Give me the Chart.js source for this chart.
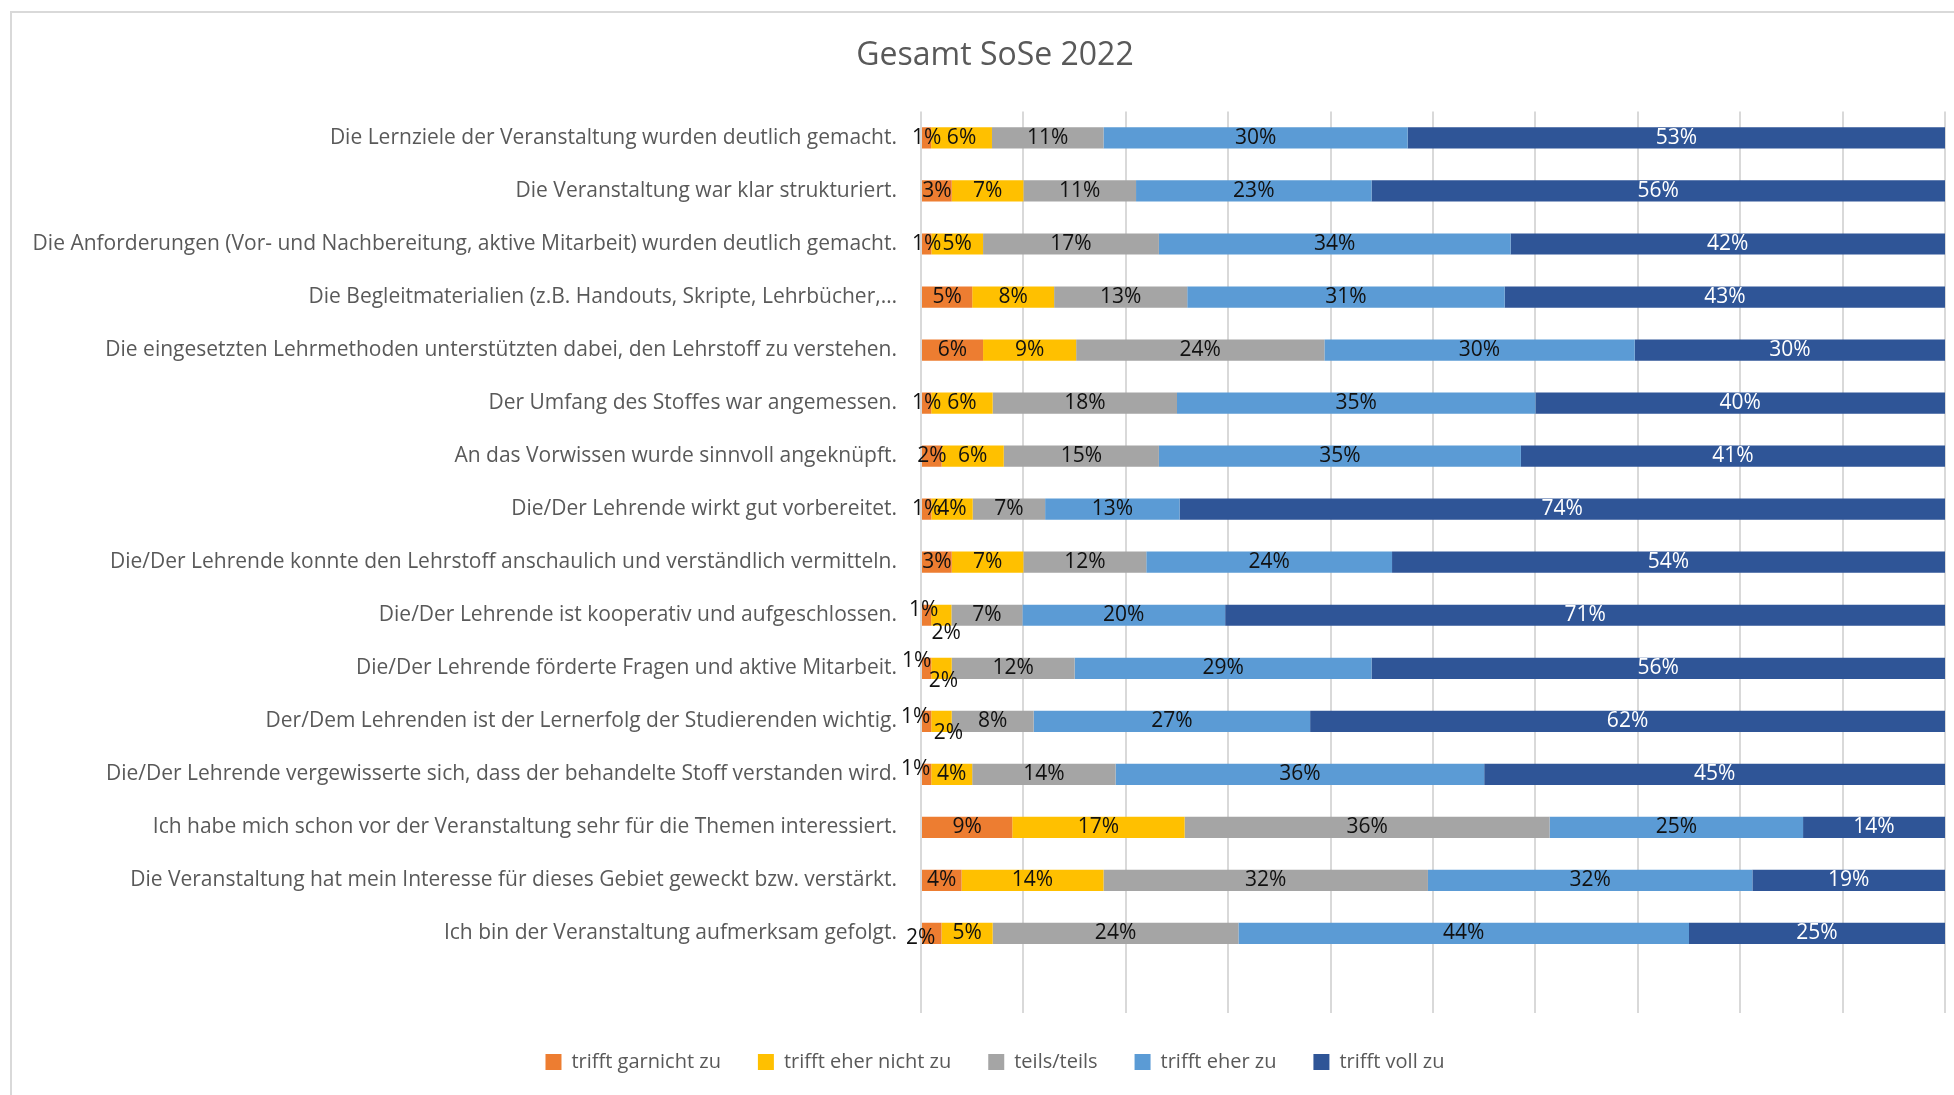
<!DOCTYPE html>
<html lang="de">
<head>
<meta charset="utf-8">
<title>Gesamt SoSe 2022</title>
<script src="https://cdn.jsdelivr.net/npm/chart.js@4/dist/chart.umd.min.js"></script>
<style>
  html, body { margin: 0; padding: 0; background: #fff; overflow: hidden; }
  #frame {
    position: absolute; left: 10px; top: 11px; width: 2100px; height: 1200px;
    border-left: 2px solid #d9d9d9; border-top: 2px solid #d9d9d9;
  }
  #wrap { position: absolute; left: 0; top: 0; width: 1954px; height: 1095px; }
</style>
</head>
<body>
<div id="frame"></div>
<div id="wrap"><canvas id="chart"></canvas></div>
<script>
// Fragen (Reihenfolge wie im Diagramm, von oben nach unten)
const fragen = [
  'Die Lernziele der Veranstaltung wurden deutlich gemacht.',
  'Die Veranstaltung war klar strukturiert.',
  'Die Anforderungen (Vor- und Nachbereitung, aktive Mitarbeit) wurden deutlich gemacht.',
  'Die Begleitmaterialien (z.B. Handouts, Skripte, Lehrbücher,…',
  'Die eingesetzten Lehrmethoden unterstützten dabei, den Lehrstoff zu verstehen.',
  'Der Umfang des Stoffes war angemessen.',
  'An das Vorwissen wurde sinnvoll angeknüpft.',
  'Die/Der Lehrende wirkt gut vorbereitet.',
  'Die/Der Lehrende konnte den Lehrstoff anschaulich und verständlich vermitteln.',
  'Die/Der Lehrende ist kooperativ und aufgeschlossen.',
  'Die/Der Lehrende förderte Fragen und aktive Mitarbeit.',
  'Der/Dem Lehrenden ist der Lernerfolg der Studierenden wichtig.',
  'Die/Der Lehrende vergewisserte sich, dass der behandelte Stoff verstanden wird.',
  'Ich habe mich schon vor der Veranstaltung sehr für die Themen interessiert.',
  'Die Veranstaltung hat mein Interesse für dieses Gebiet geweckt bzw. verstärkt.',
  'Ich bin der Veranstaltung aufmerksam gefolgt.'
];

const antworten = ['trifft garnicht zu', 'trifft eher nicht zu', 'teils/teils', 'trifft eher zu', 'trifft voll zu'];

// Anteile in Prozent
const garnicht   = [1, 3, 1, 5, 6, 1, 2, 1, 3, 1, 1, 1, 1, 9, 4, 2];
const eherNicht  = [6, 7, 5, 8, 9, 6, 6, 4, 7, 2, 2, 2, 4, 17, 14, 5];
const teilsTeils = [11, 11, 17, 13, 24, 18, 15, 7, 12, 7, 12, 8, 14, 36, 32, 24];
const eherZu     = [30, 23, 34, 31, 30, 35, 35, 13, 24, 20, 29, 27, 36, 25, 32, 44];
const vollZu     = [53, 56, 42, 43, 30, 40, 41, 74, 54, 71, 56, 62, 45, 14, 19, 25];

const xTicks = [0, 10, 20, 30, 40, 50, 60, 70, 80, 90, 100];

const farben = ['#ED7D31', '#FFC000', '#A5A5A5', '#5B9BD5', '#2F5597'];
const labelFarben = ['#111', '#111', '#111', '#111', '#fff'];

// kleine Segmente: Beschriftung verschoben wie im Original (Zeile-Reihe -> dx, dy)
const labelNudge = {
  '9-0': [-3, -5], '9-1': [5, 18],
  '10-0': [-10, -7], '10-1': [2, 13],
  '11-0': [-11, -4], '11-1': [7, 12],
  '12-0': [-11, -5],
  '15-0': [-11, 5]
};

const reihen = [garnicht, eherNicht, teilsTeils, eherZu, vollZu];
// 100%-gestapelt: jede Zeile auf ihre Summe normieren
const summen = fragen.map((_, i) => reihen.reduce((s, r) => s + r[i], 0));

const datasets = reihen.map((werte, k) => ({
  label: antworten[k],
  data: werte.map((v, i) => v / summen[i] * 100),
  rohwerte: werte,
  backgroundColor: farben[k],
  borderWidth: 0,
  barPercentage: 0.4,
  categoryPercentage: 1
}));

const prozentLabels = {
  id: 'prozentLabels',
  // lange Fragetexte duerfen links ueber den Achsenbereich hinausragen
  afterLayout(chart) {
    chart.scales.y.left = 0;
  },
  afterDatasetsDraw(chart) {
    const ctx = chart.ctx;
    ctx.save();
    ctx.font = "21px 'Open Sans'";
    ctx.textAlign = 'center';
    ctx.textBaseline = 'middle';
    chart.data.datasets.forEach((ds, di) => {
      const meta = chart.getDatasetMeta(di);
      meta.data.forEach((bar, i) => {
        const roh = ds.rohwerte[i];
        if (roh == null) return;
        const n = labelNudge[i + '-' + di] || [0, 0];
        ctx.fillStyle = labelFarben[di];
        ctx.fillText(roh + '%', (bar.x + bar.base) / 2 + n[0], bar.y + n[1]);
      });
    });
    ctx.restore();
  }
};

Chart.defaults.font.family = "'Open Sans', sans-serif";
Chart.defaults.color = '#595959';

new Chart(document.getElementById('chart'), {
  type: 'bar',
  data: {
    // die Tabelle hat unten eine leere Zeile, daher ein leerer Eintrag
    labels: [...fragen, ''],
    datasets: datasets
  },
  options: {
    indexAxis: 'y',
    responsive: true,
    maintainAspectRatio: false,
    animation: false,
    layout: { padding: { left: 45, right: 9, top: 0, bottom: 13 } },
    scales: {
      x: {
        stacked: true,
        min: 0,
        max: 100,
        afterBuildTicks: (scale) => { scale.ticks = xTicks.map(v => ({ value: v })); },
        afterFit: (scale) => { scale.height = 2; },
        ticks: { display: false },
        border: { display: false },
        grid: { color: '#d9d9d9', lineWidth: 2, drawTicks: false }
      },
      y: {
        stacked: true,
        afterFit: (scale) => { scale.width = 876; },
        border: { display: false },
        grid: { display: false, drawTicks: false },
        ticks: { padding: 24, color: '#595959', font: { size: 21 }, autoSkip: false }
      }
    },
    plugins: {
      title: {
        display: true,
        text: 'Gesamt SoSe 2022',
        color: '#595959',
        font: { size: 32, weight: 'normal' },
        padding: { top: 37, bottom: 36 }
      },
      legend: {
        position: 'bottom',
        labels: {
          boxWidth: 16,
          boxHeight: 16,
          padding: 37,
          color: '#595959',
          font: { size: 20 }
        }
      },
      tooltip: { enabled: false }
    }
  },
  plugins: [prozentLabels]
});
</script>
</body>
</html>
